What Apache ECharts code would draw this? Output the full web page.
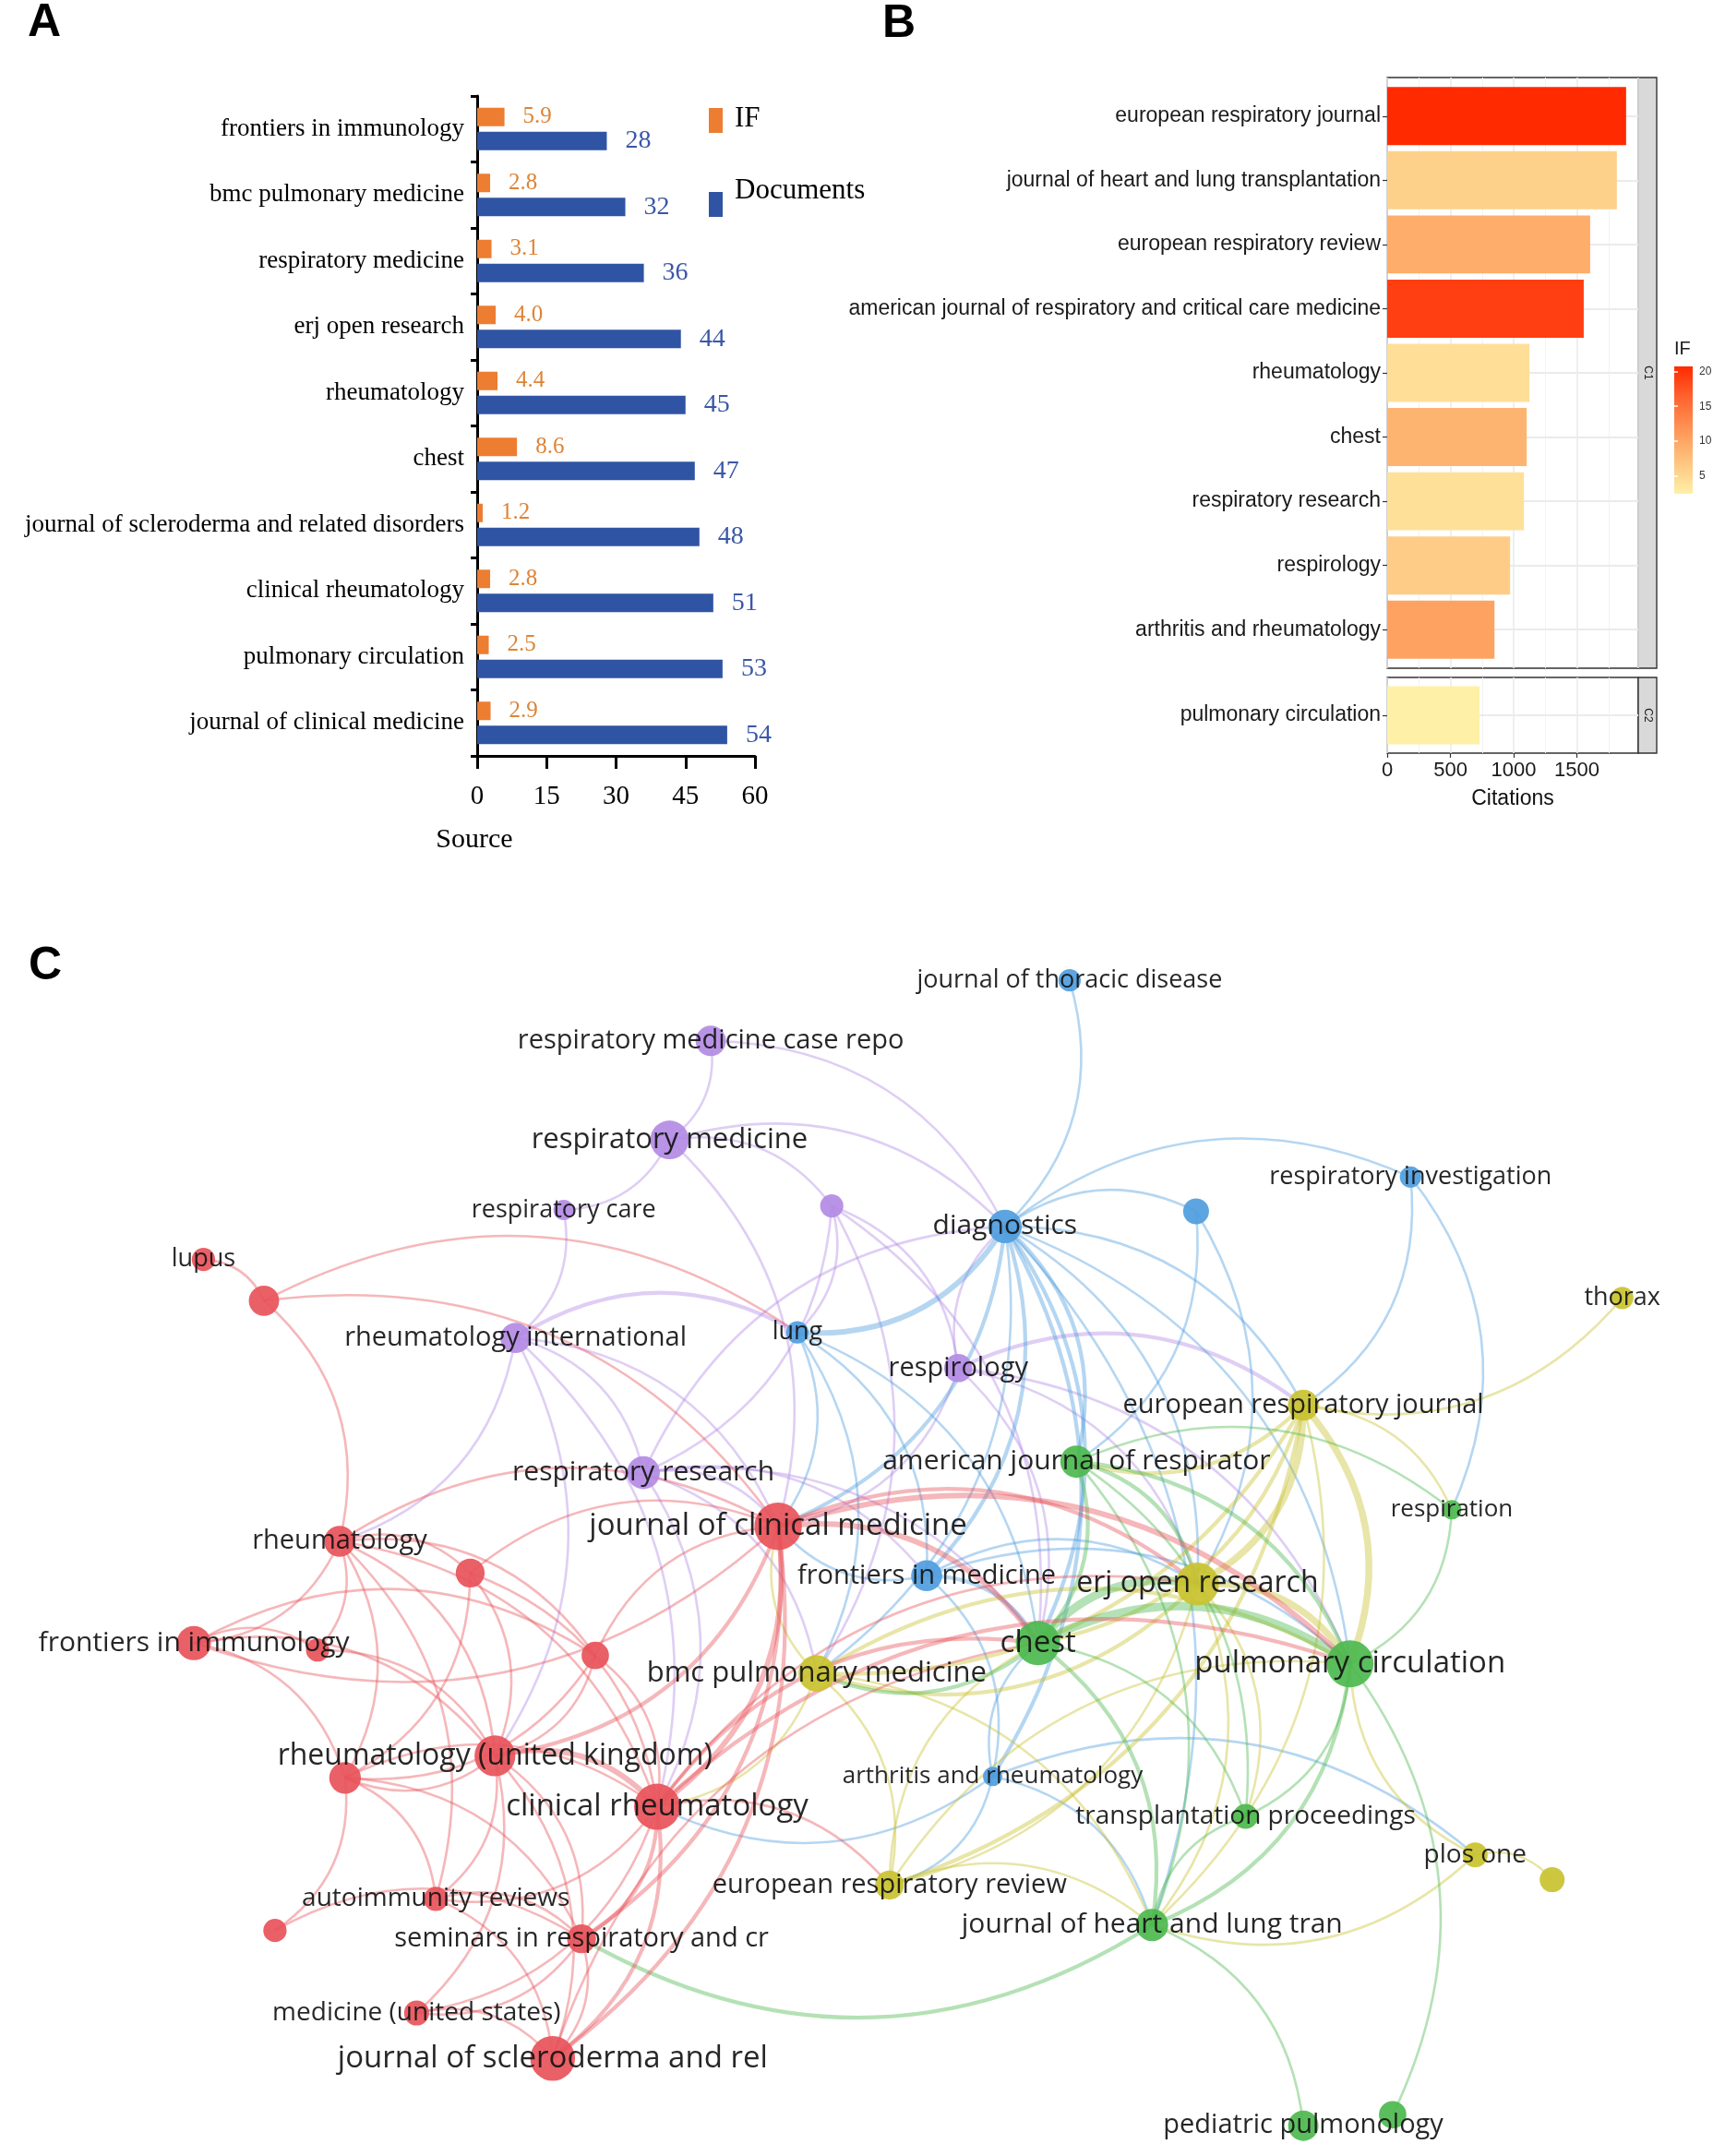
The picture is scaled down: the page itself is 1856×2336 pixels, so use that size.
<!DOCTYPE html>
<html>
<head>
<meta charset="utf-8">
<title>Sources, citations and journal co-citation map</title>
<script src="https://cdn.jsdelivr.net/npm/echarts@6.0.0/dist/echarts.min.js"></script>
<style>
  html, body { margin: 0; padding: 0; background: #fff; }
  #chart { width: 1856px; height: 2336px; }
</style>
</head>
<body>
<div id="chart"></div>
<script>
// ---- panel A: top sources ----
const sourcesA = ['frontiers in immunology', 'bmc pulmonary medicine', 'respiratory medicine', 'erj open research',
  'rheumatology', 'chest', 'journal of scleroderma and related disorders', 'clinical rheumatology',
  'pulmonary circulation', 'journal of clinical medicine'];
const impactA = [5.9, 2.8, 3.1, 4.0, 4.4, 8.6, 1.2, 2.8, 2.5, 2.9];
const docsA = [28, 32, 36, 44, 45, 47, 48, 51, 53, 54];

// ---- panel B: most cited journals, two facets ----
const journalsC1 = ['european respiratory journal', 'journal of heart and lung transplantation', 'european respiratory review',
  'american journal of respiratory and critical care medicine', 'rheumatology', 'chest', 'respiratory research',
  'respirology', 'arthritis and rheumatology'];
const citesC1 = [1889, 1816, 1605, 1554, 1125, 1103, 1081, 972, 848];
const ifC1 = [20.7, 5.7, 9.3, 19.1, 4.4, 8.6, 4.2, 6.2, 10.4];
const journalsC2 = ['pulmonary circulation'];
const citesC2 = [731];
const ifC2 = [2.5];
const citeTicks = [0, 500, 1000, 1500];
const ifTicks = [5, 10, 15, 20];

// ---- panel C: co-citation network (VOSviewer map coordinates) ----
const nodeNames = [
  'respiratory medicine case repo', 'respiratory medicine', 'respiratory care', 'n3', 'rheumatology international',
  'respirology', 'respiratory research',
  'journal of thoracic disease', 'diagnostics', 'n9', 'respiratory investigation', 'lung', 'frontiers in medicine',
  'arthritis and rheumatology',
  'thorax', 'european respiratory journal', 'erj open research', 'bmc pulmonary medicine', 'european respiratory review',
  'plos one', 'n20',
  'american journal of respirator', 'respiration', 'chest', 'pulmonary circulation', 'transplantation proceedings',
  'journal of heart and lung tran', 'pediatric pulmonology', 'n28',
  'lupus', 'n30', 'rheumatology', 'frontiers in immunology', 'n33', 'n34', 'n35', 'journal of clinical medicine',
  'rheumatology (united kingdom)', 'n38', 'clinical rheumatology', 'autoimmunity reviews', 'n41',
  'seminars in respiratory and cr', 'medicine (united states)', 'journal of scleroderma and rel'
];
const unlabeled = ['n3', 'n9', 'n20', 'n28', 'n30', 'n33', 'n34', 'n35', 'n38', 'n41'];
const nodeCluster = [
  'purple', 'purple', 'purple', 'purple', 'purple', 'purple', 'purple',
  'blue', 'blue', 'blue', 'blue', 'blue', 'blue', 'blue',
  'yellow', 'yellow', 'yellow', 'yellow', 'yellow', 'yellow', 'yellow',
  'green', 'green', 'green', 'green', 'green', 'green', 'green', 'green',
  'red', 'red', 'red', 'red', 'red', 'red', 'red', 'red', 'red', 'red', 'red', 'red', 'red', 'red', 'red', 'red'
];
const mapX = [517, 487, 410, 605, 375, 697, 468,
  778, 731, 870, 1026, 580, 674, 722,
  1180, 948, 871, 594, 647, 1073, 1129,
  783, 1056, 755, 982, 906, 838, 948, 1013,
  148, 192, 247, 141, 231, 342, 433, 566, 360, 251, 478, 317, 200, 423, 303, 402];
const mapY = [757, 829, 880, 877, 973, 995, 1071,
  713, 892, 881, 856, 969, 1146, 1292,
  944, 1022, 1152, 1217, 1371, 1349, 1367,
  1063, 1098, 1195, 1210, 1321, 1400, 1546, 1538,
  916, 946, 1121, 1195, 1200, 1144, 1204, 1110, 1277, 1293, 1314, 1381, 1404, 1410, 1464, 1497];
const nodeDocs = [22, 36, 10, 13, 22, 19, 26,
  12, 27, 16, 11, 12, 23, 9,
  12, 23, 44, 32, 20, 15, 15,
  25, 9, 47, 53, 15, 25, 22, 18,
  13, 22, 23, 28, 13, 20, 18, 54, 40, 24, 51, 14, 13, 20, 15, 48];

// [source, target, link strength]
const links = [
  ['respiratory medicine case repo', 'respiratory medicine', 1],
  ['respiratory medicine case repo', 'diagnostics', 1],
  ['respiratory medicine', 'respiratory care', 1],
  ['respiratory medicine', 'journal of clinical medicine', 1],
  ['respiratory medicine', 'diagnostics', 1],
  ['respiratory medicine', 'n3', 1],
  ['respiratory care', 'rheumatology international', 1],
  ['n3', 'respiratory research', 1],
  ['n3', 'bmc pulmonary medicine', 1],
  ['n3', 'lung', 1],
  ['n3', 'respirology', 1],
  ['n3', 'chest', 1],
  ['rheumatology international', 'rheumatology', 1],
  ['rheumatology international', 'rheumatology (united kingdom)', 1],
  ['rheumatology international', 'respiratory research', 1],
  ['rheumatology international', 'clinical rheumatology', 1],
  ['rheumatology international', 'lung', 2],
  ['rheumatology international', 'journal of clinical medicine', 1],
  ['respirology', 'diagnostics', 1],
  ['respirology', 'chest', 1],
  ['respirology', 'european respiratory journal', 2],
  ['respirology', 'pulmonary circulation', 1],
  ['respirology', 'journal of clinical medicine', 1],
  ['respirology', 'erj open research', 1],
  ['respiratory research', 'journal of clinical medicine', 1],
  ['respiratory research', 'bmc pulmonary medicine', 1],
  ['respiratory research', 'chest', 1],
  ['respiratory research', 'frontiers in medicine', 1],
  ['respiratory research', 'diagnostics', 1],
  ['respiratory research', 'clinical rheumatology', 1],
  ['journal of thoracic disease', 'diagnostics', 1],
  ['diagnostics', 'respiratory investigation', 1],
  ['diagnostics', 'n9', 1],
  ['diagnostics', 'lung', 3],
  ['diagnostics', 'frontiers in medicine', 2],
  ['diagnostics', 'chest', 2],
  ['diagnostics', 'american journal of respirator', 2],
  ['diagnostics', 'erj open research', 1],
  ['diagnostics', 'pulmonary circulation', 1],
  ['diagnostics', 'arthritis and rheumatology', 2],
  ['diagnostics', 'bmc pulmonary medicine', 1],
  ['diagnostics', 'journal of clinical medicine', 2],
  ['diagnostics', 'european respiratory journal', 1],
  ['diagnostics', 'journal of heart and lung tran', 1],
  ['n9', 'american journal of respirator', 1],
  ['n9', 'erj open research', 1],
  ['respiratory investigation', 'european respiratory journal', 1],
  ['respiratory investigation', 'respiration', 1],
  ['lung', 'journal of clinical medicine', 1],
  ['lung', 'chest', 1],
  ['lung', 'frontiers in medicine', 1],
  ['lung', 'bmc pulmonary medicine', 1],
  ['frontiers in medicine', 'chest', 2],
  ['frontiers in medicine', 'pulmonary circulation', 1],
  ['frontiers in medicine', 'erj open research', 1],
  ['frontiers in medicine', 'journal of clinical medicine', 1],
  ['frontiers in medicine', 'arthritis and rheumatology', 1],
  ['arthritis and rheumatology', 'chest', 1],
  ['arthritis and rheumatology', 'journal of heart and lung tran', 1],
  ['arthritis and rheumatology', 'european respiratory review', 1],
  ['arthritis and rheumatology', 'plos one', 1],
  ['arthritis and rheumatology', 'clinical rheumatology', 1],
  ['thorax', 'european respiratory journal', 1],
  ['european respiratory journal', 'erj open research', 4],
  ['european respiratory journal', 'pulmonary circulation', 4],
  ['european respiratory journal', 'chest', 2],
  ['european respiratory journal', 'american journal of respirator', 2],
  ['european respiratory journal', 'bmc pulmonary medicine', 2],
  ['european respiratory journal', 'respiration', 1],
  ['european respiratory journal', 'european respiratory review', 2],
  ['european respiratory journal', 'journal of heart and lung tran', 1],
  ['erj open research', 'pulmonary circulation', 4],
  ['erj open research', 'bmc pulmonary medicine', 2],
  ['erj open research', 'european respiratory review', 1],
  ['erj open research', 'journal of heart and lung tran', 1],
  ['erj open research', 'transplantation proceedings', 1],
  ['bmc pulmonary medicine', 'european respiratory review', 1],
  ['bmc pulmonary medicine', 'journal of heart and lung tran', 1],
  ['bmc pulmonary medicine', 'pulmonary circulation', 2],
  ['bmc pulmonary medicine', 'clinical rheumatology', 1],
  ['bmc pulmonary medicine', 'journal of clinical medicine', 1],
  ['european respiratory review', 'journal of heart and lung tran', 1],
  ['european respiratory review', 'pulmonary circulation', 1],
  ['european respiratory review', 'chest', 1],
  ['plos one', 'n20', 1],
  ['plos one', 'journal of heart and lung tran', 1],
  ['plos one', 'pulmonary circulation', 1],
  ['american journal of respirator', 'chest', 2],
  ['american journal of respirator', 'pulmonary circulation', 2],
  ['american journal of respirator', 'erj open research', 2],
  ['american journal of respirator', 'respiration', 1],
  ['american journal of respirator', 'journal of heart and lung tran', 1],
  ['american journal of respirator', 'transplantation proceedings', 1],
  ['chest', 'erj open research', 5],
  ['chest', 'pulmonary circulation', 5],
  ['chest', 'journal of heart and lung tran', 2],
  ['chest', 'transplantation proceedings', 1],
  ['chest', 'bmc pulmonary medicine', 2],
  ['respiration', 'pulmonary circulation', 1],
  ['pulmonary circulation', 'transplantation proceedings', 1],
  ['pulmonary circulation', 'journal of heart and lung tran', 2],
  ['pulmonary circulation', 'n28', 1],
  ['journal of heart and lung tran', 'pediatric pulmonology', 1],
  ['journal of heart and lung tran', 'transplantation proceedings', 1],
  ['journal of heart and lung tran', 'seminars in respiratory and cr', 2],
  ['lupus', 'n30', 1],
  ['n30', 'rheumatology', 1],
  ['n30', 'journal of clinical medicine', 1],
  ['n30', 'lung', 1],
  ['rheumatology', 'frontiers in immunology', 1],
  ['rheumatology', 'n33', 1],
  ['rheumatology', 'n34', 1],
  ['rheumatology', 'n35', 1],
  ['rheumatology', 'rheumatology (united kingdom)', 1],
  ['rheumatology', 'clinical rheumatology', 1],
  ['rheumatology', 'n38', 1],
  ['rheumatology', 'journal of clinical medicine', 1],
  ['rheumatology', 'autoimmunity reviews', 1],
  ['frontiers in immunology', 'n33', 1],
  ['frontiers in immunology', 'rheumatology (united kingdom)', 1],
  ['frontiers in immunology', 'n38', 1],
  ['frontiers in immunology', 'n35', 1],
  ['n33', 'rheumatology (united kingdom)', 1],
  ['n34', 'journal of clinical medicine', 1],
  ['n34', 'rheumatology (united kingdom)', 1],
  ['n34', 'n38', 1],
  ['n34', 'clinical rheumatology', 1],
  ['n35', 'rheumatology (united kingdom)', 1],
  ['n35', 'clinical rheumatology', 1],
  ['n35', 'journal of clinical medicine', 1],
  ['n35', 'n38', 1],
  ['journal of clinical medicine', 'clinical rheumatology', 3],
  ['journal of clinical medicine', 'rheumatology (united kingdom)', 2],
  ['journal of clinical medicine', 'journal of scleroderma and rel', 2],
  ['journal of clinical medicine', 'seminars in respiratory and cr', 2],
  ['journal of clinical medicine', 'chest', 3],
  ['journal of clinical medicine', 'pulmonary circulation', 3],
  ['journal of clinical medicine', 'erj open research', 2],
  ['journal of clinical medicine', 'frontiers in immunology', 1],
  ['rheumatology (united kingdom)', 'clinical rheumatology', 3],
  ['rheumatology (united kingdom)', 'n38', 1],
  ['rheumatology (united kingdom)', 'autoimmunity reviews', 1],
  ['rheumatology (united kingdom)', 'seminars in respiratory and cr', 1],
  ['rheumatology (united kingdom)', 'journal of scleroderma and rel', 1],
  ['rheumatology (united kingdom)', 'medicine (united states)', 1],
  ['n38', 'autoimmunity reviews', 1],
  ['n38', 'n41', 1],
  ['n38', 'seminars in respiratory and cr', 1],
  ['n38', 'clinical rheumatology', 1],
  ['clinical rheumatology', 'seminars in respiratory and cr', 2],
  ['clinical rheumatology', 'journal of scleroderma and rel', 2],
  ['clinical rheumatology', 'autoimmunity reviews', 1],
  ['clinical rheumatology', 'medicine (united states)', 1],
  ['clinical rheumatology', 'chest', 2],
  ['clinical rheumatology', 'pulmonary circulation', 2],
  ['clinical rheumatology', 'erj open research', 1],
  ['clinical rheumatology', 'european respiratory review', 1],
  ['autoimmunity reviews', 'seminars in respiratory and cr', 1],
  ['autoimmunity reviews', 'journal of scleroderma and rel', 1],
  ['n41', 'seminars in respiratory and cr', 1],
  ['seminars in respiratory and cr', 'journal of scleroderma and rel', 1],
  ['seminars in respiratory and cr', 'medicine (united states)', 1],
  ['medicine (united states)', 'journal of scleroderma and rel', 1],
  ['journal of scleroderma and rel', 'chest', 1]
];

const serif = "'Liberation Serif', 'Times New Roman', serif";
const sans = "'Liberation Sans', Arial, sans-serif";
const vos = "'Open Sans', sans-serif";

const clusterColors = {
  red: '#e8535a', green: '#4db84e', blue: '#4f9dde', yellow: '#c9c22f', purple: '#b38be4'
};
// IF colour scale, low -> high
const ifColors = ['#fff0a8', '#fec47f', '#fe9657', '#ff6530', '#ff2a00'];
const ifMin = 2.5, ifMax = 20.7;

const chart = echarts.init(document.getElementById('chart'));

const colorOf = name => clusterColors[nodeCluster[nodeNames.indexOf(name)]];

const nodeData = nodeNames.map((n, i) => {
  const size = 7 * Math.sqrt(nodeDocs[i]);
  return {
    name: n,
    value: [mapX[i], mapY[i]],
    symbolSize: size,
    itemStyle: { color: clusterColors[nodeCluster[i]], opacity: 0.92 },
    label: { show: unlabeled.indexOf(n) < 0, fontSize: Math.round(21.5 + 0.23 * size) }
  };
});

const minorGrid = {
  splitLine: { show: true, lineStyle: { color: '#ebebeb', width: 1.6 } },
  minorTick: { show: false, splitNumber: 2 },
  minorSplitLine: { show: true, lineStyle: { color: '#f3f3f3', width: 1 } }
};

const centreLines = (names) => ({
  silent: true,
  z: 1,
  symbol: ['none', 'none'],
  label: { show: false },
  lineStyle: { color: '#ebebeb', width: 2, type: 'solid' },
  data: names.map(n => ({ yAxis: n }))
});

const catAxisB = (grid, names) => ({
  gridIndex: grid,
  type: 'category',
  data: names,
  inverse: true,
  axisLine: { show: false },
  axisTick: { show: true, alignWithLabel: true, length: 5, lineStyle: { color: '#333', width: 1.2 } },
  axisLabel: { fontFamily: sans, fontSize: 23, color: '#1a1a1a', margin: 7 },
  splitLine: { show: false }
});

const plainGrid = g => Object.assign({ containLabel: false, outerBoundsMode: 'none' }, g);

const option = {
  animation: false,
  backgroundColor: '#fff',
  grid: [
    plainGrid({ left: 517, top: 104, width: 301, height: 715 }),                                   // 0 A
    plainGrid({ left: 1503, top: 84, width: 272, height: 640, show: true, borderColor: '#333', borderWidth: 1.4 }),  // 1 C1 frame
    plainGrid({ left: 1503, top: 91, width: 272, height: 626 }),                                   // 2 C1 bars
    plainGrid({ left: 1503, top: 734, width: 272, height: 82, show: true, borderColor: '#333', borderWidth: 1.4 }),  // 3 C2 frame
    plainGrid({ left: 1503, top: 740, width: 272, height: 70 }),                                   // 4 C2 bars
    plainGrid({
      left: 1814, top: 397, width: 20, height: 138, show: true, borderWidth: 0,
      backgroundColor: new echarts.graphic.LinearGradient(0, 0, 0, 1,
        ifColors.slice().reverse().map((c, i) => ({ offset: i / (ifColors.length - 1), color: c })))
    }),                                                                                            // 5 IF colour bar
    plainGrid({ left: 0, top: 0, width: 1856, height: 2336 })                                      // 6 network
  ],
  xAxis: [
    {
      gridIndex: 0, type: 'value', min: 0, max: 60, interval: 15,
      axisLine: { show: true, lineStyle: { color: '#000', width: 3 } },
      axisTick: { show: true, length: 14, lineStyle: { color: '#000', width: 3 } },
      axisLabel: { fontFamily: serif, fontSize: 29, color: '#000', margin: 30 },
      splitLine: { show: false }
    },
    Object.assign({ gridIndex: 1, type: 'value', min: 0, max: 1985, interval: 500,
      axisLine: { show: false }, axisTick: { show: false }, axisLabel: { show: false } }, minorGrid),
    { gridIndex: 2, type: 'value', min: 0, max: 1985, show: false },
    Object.assign({ gridIndex: 3, type: 'value', min: 0, max: 1985, interval: 500,
      axisLine: { show: false },
      axisTick: { show: true, customValues: citeTicks, length: 5, lineStyle: { color: '#333', width: 1.2 } },
      axisLabel: { show: true, customValues: citeTicks, formatter: v => String(v),
        fontFamily: sans, fontSize: 22, color: '#1a1a1a', margin: 8 },
      name: 'Citations', nameLocation: 'middle', nameGap: 38,
      nameTextStyle: { fontFamily: sans, fontSize: 23, color: '#111' } }, minorGrid),
    { gridIndex: 4, type: 'value', min: 0, max: 1985, show: false },
    { gridIndex: 5, type: 'value', show: false },
    { gridIndex: 6, type: 'value', min: 0, max: 1246, show: false }
  ],
  yAxis: [
    {
      gridIndex: 0, type: 'category', data: sourcesA, inverse: true,
      axisLine: { show: true, lineStyle: { color: '#000', width: 3 } },
      axisTick: { show: true, length: 7, lineStyle: { color: '#000', width: 3 } },
      axisLabel: { fontFamily: serif, fontSize: 27, color: '#000', margin: 14 }
    },
    { gridIndex: 1, type: 'value', show: false },
    catAxisB(2, journalsC1),
    { gridIndex: 3, type: 'value', show: false },
    catAxisB(4, journalsC2),
    {
      gridIndex: 5, type: 'value', min: ifMin, max: ifMax, position: 'right',
      axisLine: { show: false }, splitLine: { show: false },
      axisTick: { show: true, inside: true, length: 4, customValues: ifTicks, lineStyle: { color: '#fff', width: 1.5 } },
      axisLabel: { customValues: ifTicks, fontFamily: sans, fontSize: 12, color: '#333', margin: 7 }
    },
    {
      gridIndex: 5, type: 'value', min: ifMin, max: ifMax, position: 'left',
      axisLine: { show: false }, splitLine: { show: false }, axisLabel: { show: false },
      axisTick: { show: true, inside: true, length: 4, customValues: ifTicks, lineStyle: { color: '#fff', width: 1.5 } }
    },
    { gridIndex: 6, type: 'value', min: 0, max: 1568, inverse: true, show: false }
  ],
  legend: {
    data: ['IF', 'Documents'],
    orient: 'vertical', left: 763, top: 108,
    itemWidth: 15, itemHeight: 27, itemGap: 47,
    icon: 'rect',
    formatter: name => name === 'Documents' ? '{up|' + name + '}' : '{n|' + name + '}',
    textStyle: {
      fontFamily: serif, fontSize: 31, color: '#000',
      rich: {
        n: { fontFamily: serif, fontSize: 31, color: '#000', padding: [0, 0, 4, 8] },
        up: { fontFamily: serif, fontSize: 31, color: '#000', padding: [0, 0, 30, 8] }
      }
    }
  },
  visualMap: {
    type: 'continuous', show: false, seriesIndex: [3, 5], dimension: 2,
    min: ifMin, max: ifMax, inRange: { color: ifColors }
  },
  series: [
    {
      name: 'IF', type: 'bar', xAxisIndex: 0, yAxisIndex: 0, data: impactA,
      barWidth: 20, barGap: '30%', itemStyle: { color: '#ed7d31' },
      label: { show: true, position: 'right', distance: 20, formatter: p => p.value.toFixed(1),
        fontFamily: serif, fontSize: 25, color: '#dd8436' }
    },
    {
      name: 'Documents', type: 'bar', xAxisIndex: 0, yAxisIndex: 0, data: docsA,
      barWidth: 20, barGap: '30%', itemStyle: { color: '#2f54a3' },
      label: { show: true, position: 'right', distance: 20,
        fontFamily: serif, fontSize: 28, color: '#3a57a6' }
    },
    { type: 'line', xAxisIndex: 2, yAxisIndex: 2, data: [], z: 1, silent: true, markLine: centreLines(journalsC1) },
    {
      name: 'Citations', type: 'bar', xAxisIndex: 2, yAxisIndex: 2, z: 3,
      data: journalsC1.map((j, i) => [citesC1[i], j, ifC1[i]]),
      encode: { x: 0, y: 1 }, barCategoryGap: '9.5%'
    },
    { type: 'line', xAxisIndex: 4, yAxisIndex: 4, data: [], z: 1, silent: true, markLine: centreLines(journalsC2) },
    {
      name: 'Citations C2', type: 'bar', xAxisIndex: 4, yAxisIndex: 4, z: 3,
      data: journalsC2.map((j, i) => [citesC2[i], j, ifC2[i]]),
      encode: { x: 0, y: 1 }, barWidth: 63
    },
    {
      type: 'graph', coordinateSystem: 'cartesian2d', xAxisIndex: 6, yAxisIndex: 7,
      data: nodeData,
      links: links.map(([s, t, w]) => ({
        source: s, target: t,
        lineStyle: { width: 1 + 1.6 * w, color: colorOf(s) }
      })),
      symbol: 'circle',
      edgeSymbol: ['none', 'none'],
      lineStyle: { opacity: 0.42, curveness: 0.3 },
      label: { position: 'inside', color: '#141414', fontFamily: vos },
      emphasis: { disabled: true },
      z: 2
    }
  ],
  graphic: [
    { type: 'text', x: 48, y: 25, style: { text: 'A', font: 'bold 50px ' + sans, fill: '#000', align: 'center', verticalAlign: 'middle' } },
    { type: 'text', x: 974, y: 26, style: { text: 'B', font: 'bold 50px ' + sans, fill: '#000', align: 'center', verticalAlign: 'middle' } },
    { type: 'text', x: 49, y: 1047, style: { text: 'C', font: 'bold 50px ' + sans, fill: '#000', align: 'center', verticalAlign: 'middle' } },
    { type: 'text', x: 514, y: 910, style: { text: 'Source', font: '30px ' + serif, fill: '#000', align: 'center', verticalAlign: 'middle' } },
    { type: 'text', x: 1814, y: 378, style: { text: 'IF', font: '20px ' + sans, fill: '#1a1a1a', align: 'left', verticalAlign: 'middle' } },
    { type: 'rect', shape: { x: 1775, y: 84, width: 20, height: 640 }, style: { fill: '#d9d9d9', stroke: '#333', lineWidth: 1.4 } },
    { type: 'rect', shape: { x: 1775, y: 734, width: 20, height: 82 }, style: { fill: '#d9d9d9', stroke: '#333', lineWidth: 1.4 } },
    { type: 'text', x: 1785, y: 404, rotation: -Math.PI / 2, style: { text: 'C1', font: '12px ' + sans, fill: '#1a1a1a', align: 'center', verticalAlign: 'middle' } },
    { type: 'text', x: 1785, y: 775, rotation: -Math.PI / 2, style: { text: 'C2', font: '12px ' + sans, fill: '#1a1a1a', align: 'center', verticalAlign: 'middle' } }
  ]
};

chart.setOption(option);
</script>
</body>
</html>
